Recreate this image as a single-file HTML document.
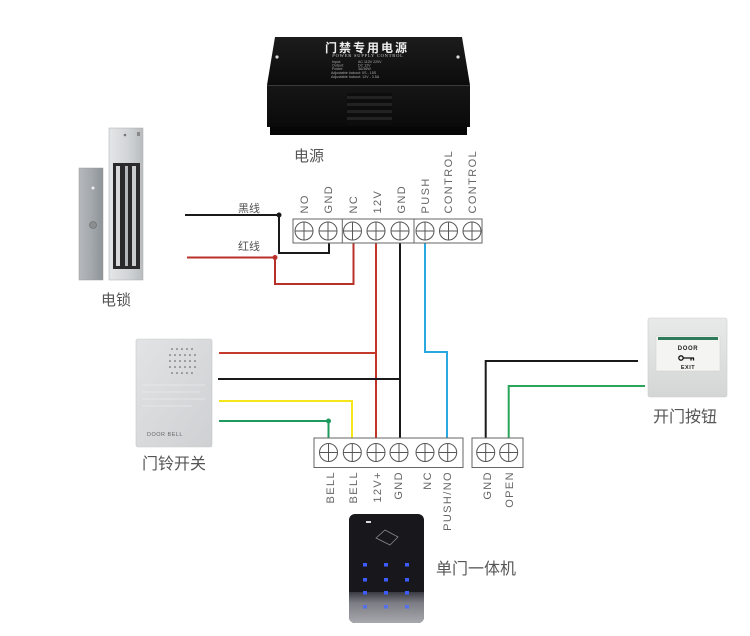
<!DOCTYPE html>
<html><head><meta charset="utf-8"><style>
html,body{margin:0;padding:0;background:#fff;}
svg{display:block;}
.cn{font-family:"Liberation Sans","Noto Sans CJK SC",sans-serif;fill:#555;}
.lb{font-family:"Liberation Sans",sans-serif;font-size:11px;fill:#666;letter-spacing:1.4px;}
</style></head><body>
<svg width="750" height="636" viewBox="0 0 750 636" xmlns="http://www.w3.org/2000/svg">
<defs>
<linearGradient id="psTop" x1="0" y1="0" x2="0" y2="1"><stop offset="0" stop-color="#1c1c1c"/><stop offset="1" stop-color="#0c0c0c"/></linearGradient>
<linearGradient id="psFront" x1="0" y1="0" x2="0" y2="1"><stop offset="0" stop-color="#161616"/><stop offset="1" stop-color="#0a0a0a"/></linearGradient>
<linearGradient id="plate" x1="0" y1="0" x2="1" y2="0"><stop offset="0" stop-color="#b5b9bc"/><stop offset="0.5" stop-color="#a4a9ad"/><stop offset="1" stop-color="#8e9397"/></linearGradient>
<linearGradient id="mag" x1="0" y1="0" x2="1" y2="0"><stop offset="0" stop-color="#e4e6e8"/><stop offset="0.6" stop-color="#d0d3d6"/><stop offset="1" stop-color="#b8bcbf"/></linearGradient>
<linearGradient id="bell" x1="0" y1="0" x2="1" y2="1"><stop offset="0" stop-color="#e2e3e5"/><stop offset="1" stop-color="#cfd0d3"/></linearGradient>
<linearGradient id="exitg" x1="0" y1="0" x2="0" y2="1"><stop offset="0" stop-color="#e8e9e9"/><stop offset="1" stop-color="#d4d6d6"/></linearGradient>
<linearGradient id="kpBot" x1="0" y1="0" x2="0" y2="1"><stop offset="0" stop-color="#3a3a42"/><stop offset="0.35" stop-color="#7c7d84"/><stop offset="1" stop-color="#a8a9ae"/></linearGradient>
</defs>

<!-- Power supply -->
<polygon points="275,37 462,37 470,85 267,85" fill="url(#psTop)"/>
<rect x="267" y="85" width="203" height="42" fill="url(#psFront)"/>
<line x1="267" y1="85.5" x2="470" y2="85.5" stroke="#3a3a3a" stroke-width="1"/>
<rect x="270" y="127" width="197" height="8" fill="#060606"/>
<circle cx="277" cy="57" r="1.6" fill="#ddd"/>
<circle cx="458" cy="57" r="1.6" fill="#ddd"/>
<text x="367" y="52" text-anchor="middle" font-family="Liberation Sans,'Noto Sans CJK SC',sans-serif" font-size="12" font-weight="bold" fill="#eee" letter-spacing="2">门禁专用电源</text>
<text x="368" y="57" text-anchor="middle" font-family="Liberation Serif,serif" font-size="4.5" fill="#ccc" letter-spacing="0.8">POWER SUPPLY CONTROL</text>
<g font-family="Liberation Sans,sans-serif" font-size="3.6" fill="#aaa">
<text x="332" y="63">Input:</text><text x="358" y="63">AC 110V 220V</text>
<text x="332" y="66.5">Output:</text><text x="358" y="66.5">DC 12V</text>
<text x="332" y="70">Power:</text><text x="358" y="70">3A/36W</text>
<text x="331" y="74">Adjustable lockout: 0S  - 15S</text>
<text x="331" y="78">Adjustable lockout: 12V  - 3.5A</text>
</g>
<g fill="#222">
<rect x="347" y="93" width="45" height="32" fill="#0d0d0d"/>
<rect x="347" y="96" width="45" height="3"/>
<rect x="347" y="103" width="45" height="3"/>
<rect x="347" y="110" width="45" height="3"/>
<rect x="347" y="117" width="45" height="3"/>
</g>
<text x="309" y="161" text-anchor="middle" class="cn" font-size="15">电源</text>

<!-- Lock -->
<rect x="79" y="168" width="24" height="112" fill="url(#plate)" stroke="#999" stroke-width="0.5"/>
<circle cx="93" cy="188" r="1.5" fill="#eee"/>
<circle cx="93" cy="225" r="3.5" fill="#8a8e91" stroke="#666" stroke-width="0.6"/>
<rect x="109" y="128" width="34" height="152" fill="url(#mag)" stroke="#aaa" stroke-width="0.5"/>
<rect x="113" y="163" width="27" height="106" fill="#2a2a2c"/>
<rect x="116" y="166" width="4" height="100" fill="#d6d8da"/>
<rect x="125" y="166" width="3" height="100" fill="#b5b8ba"/>
<rect x="132" y="166" width="4" height="100" fill="#c9cbcd"/>
<circle cx="125" cy="135" r="1.3" fill="#777"/>
<rect x="137" y="132" width="3" height="4" fill="#888"/>
<text x="116" y="305" text-anchor="middle" class="cn" font-size="15">电锁</text>

<!-- Doorbell -->
<rect x="136" y="339" width="76" height="108" rx="2" fill="url(#bell)" stroke="#c8c9cb" stroke-width="0.6"/>
<g fill="#555">
<circle cx="172" cy="349" r="0.8"/><circle cx="177" cy="349" r="0.8"/><circle cx="182" cy="349" r="0.8"/><circle cx="187" cy="349" r="0.8"/><circle cx="192" cy="349" r="0.8"/>
<circle cx="170" cy="355" r="0.8"/><circle cx="175" cy="355" r="0.8"/><circle cx="180" cy="355" r="0.8"/><circle cx="185" cy="355" r="0.8"/><circle cx="190" cy="355" r="0.8"/><circle cx="195" cy="355" r="0.8"/>
<circle cx="170" cy="361" r="0.8"/><circle cx="175" cy="361" r="0.8"/><circle cx="180" cy="361" r="0.8"/><circle cx="185" cy="361" r="0.8"/><circle cx="190" cy="361" r="0.8"/><circle cx="195" cy="361" r="0.8"/>
<circle cx="170" cy="367" r="0.8"/><circle cx="175" cy="367" r="0.8"/><circle cx="180" cy="367" r="0.8"/><circle cx="185" cy="367" r="0.8"/><circle cx="190" cy="367" r="0.8"/><circle cx="195" cy="367" r="0.8"/>
<circle cx="172" cy="373" r="0.8"/><circle cx="177" cy="373" r="0.8"/><circle cx="182" cy="373" r="0.8"/><circle cx="187" cy="373" r="0.8"/><circle cx="192" cy="373" r="0.8"/>
</g>
<g stroke="#e9eaec" stroke-width="0.8">
<line x1="142" y1="385" x2="205" y2="385"/><line x1="142" y1="392" x2="200" y2="392"/><line x1="142" y1="399" x2="205" y2="399"/><line x1="142" y1="406" x2="192" y2="406"/>
</g>
<text x="147" y="436" font-family="Liberation Sans,sans-serif" font-size="5.5" fill="#666" letter-spacing="0.5">DOOR BELL</text>
<text x="174" y="469" text-anchor="middle" class="cn" font-size="16">门铃开关</text>

<!-- Exit button -->
<rect x="648" y="318" width="79" height="79" rx="2" fill="url(#exitg)" stroke="#ccc" stroke-width="0.6"/>
<rect x="656" y="336" width="64" height="35" fill="#f4f4f2" stroke="#cfcfcf" stroke-width="0.5"/>
<rect x="658" y="337" width="60" height="3" fill="#2e7a5a"/>
<text x="688" y="350" text-anchor="middle" font-family="Liberation Sans,sans-serif" font-size="6" font-weight="bold" fill="#222" letter-spacing="0.6">DOOR</text>
<circle cx="681" cy="358" r="2.2" fill="none" stroke="#111" stroke-width="1.3"/>
<path d="M683.5,358 H694 M691,358 V360.5 M693.5,358 V360.5" stroke="#111" stroke-width="1.3" fill="none"/>
<text x="688" y="369" text-anchor="middle" font-family="Liberation Sans,sans-serif" font-size="5.5" font-weight="bold" fill="#222" letter-spacing="0.5">EXIT</text>
<text x="685" y="422" text-anchor="middle" class="cn" font-size="16">开门按钮</text>

<!-- Keypad -->
<rect x="349" y="514" width="75" height="109" rx="6" fill="#17171c"/>
<path d="M349,592 H424 V617 a6,6 0 0 1 -6,6 H355 a6,6 0 0 1 -6,-6 Z" fill="url(#kpBot)"/>
<rect x="366" y="521" width="5" height="2" fill="#ddd"/>
<path d="M376,538 L385,530 L398,537 L390,545 Z" fill="none" stroke="#888" stroke-width="0.8"/>
<g fill="#3d5cff">
<rect x="363" y="563" width="4" height="3.5"/><rect x="384" y="563" width="4" height="3.5"/><rect x="405" y="563" width="4" height="3.5"/>
<rect x="363" y="578" width="4" height="3.5"/><rect x="384" y="578" width="4" height="3.5"/><rect x="405" y="578" width="4" height="3.5"/>
<rect x="363" y="591" width="4" height="3.5"/><rect x="384" y="591" width="4" height="3.5"/><rect x="405" y="591" width="4" height="3.5"/>
</g>
<g fill="#5570e8">
<rect x="363" y="605" width="4" height="3.5"/><rect x="384" y="605" width="4" height="3.5"/><rect x="405" y="605" width="4" height="3.5"/>
</g>
<text x="476" y="574" text-anchor="middle" class="cn" font-size="16">单门一体机</text>

<!-- Wire labels -->
<text x="249" y="212" text-anchor="middle" class="cn" font-size="11">黑线</text>
<text x="249" y="250" text-anchor="middle" class="cn" font-size="11">红线</text>

<!-- Wires -->
<g fill="none" stroke-width="2">
<path d="M185,215 H279 V253 H329 V243" stroke="#1a1a1a"/>
<path d="M187,257.5 H275 V284 H353.5 V243" stroke="#b8302a"/>
<path d="M376,243 V438" stroke="#c0342a"/>
<path d="M400,243 V438" stroke="#1a1a1a"/>
<path d="M425,243 V352 H447 V438" stroke="#2aa8e0"/>
<path d="M219,353 H376" stroke="#c63a2c"/>
<path d="M218,379 H400" stroke="#1a1a1a"/>
<path d="M219,401 H352 V438" stroke="#f4e61a"/>
<path d="M219,421 H328.5 V438" stroke="#1f9a5e"/>
<path d="M485.7,438 V361 H638" stroke="#1a1a1a"/>
<path d="M508.7,438 V386 H645" stroke="#2aa65a"/>
</g>
<circle cx="279" cy="215" r="2.5" fill="#1a1a1a"/>
<circle cx="275" cy="257.5" r="2.5" fill="#b8302a"/>
<circle cx="328.5" cy="421" r="2.5" fill="#1f9a5e"/>

<!-- Top terminal block -->
<rect x="293" y="219" width="189" height="24" fill="#fff" stroke="#666" stroke-width="1"/>
<line x1="342.3" y1="219" x2="342.3" y2="243" stroke="#666"/>
<line x1="414" y1="219" x2="414" y2="243" stroke="#666"/>
<g fill="none" stroke="#555" stroke-width="1">
<circle cx="304" cy="231" r="9"/><path d="M295,231 H313 M304,222 V240"/>
<circle cx="328" cy="231" r="9"/><path d="M319,231 H337 M328,222 V240"/>
<circle cx="352.5" cy="231" r="9"/><path d="M343.5,231 H361.5 M352.5,222 V240"/>
<circle cx="376" cy="231" r="9"/><path d="M367,231 H385 M376,222 V240"/>
<circle cx="400" cy="231" r="9"/><path d="M391,231 H409 M400,222 V240"/>
<circle cx="425" cy="231" r="9"/><path d="M416,231 H434 M425,222 V240"/>
<circle cx="448.5" cy="231" r="9"/><path d="M439.5,231 H457.5 M448.5,222 V240"/>
<circle cx="472" cy="231" r="9"/><path d="M463,231 H481 M472,222 V240"/>
</g>
<g class="lb">
<text transform="translate(308,213.5) rotate(-90)">NO</text>
<text transform="translate(332,213.5) rotate(-90)">GND</text>
<text transform="translate(357,213.5) rotate(-90)">NC</text>
<text transform="translate(381,213.5) rotate(-90)">12V</text>
<text transform="translate(405,213.5) rotate(-90)">GND</text>
<text transform="translate(429,213.5) rotate(-90)">PUSH</text>
<text transform="translate(452,213.5) rotate(-90)">CONTROL</text>
<text transform="translate(476,213.5) rotate(-90)">CONTROL</text>
</g>

<!-- Bottom terminal blocks -->
<rect x="314" y="438" width="149" height="29.5" fill="#fff" stroke="#666" stroke-width="1"/>
<rect x="472" y="438" width="51" height="29.5" fill="#fff" stroke="#666" stroke-width="1"/>
<g fill="none" stroke="#555" stroke-width="1">
<circle cx="328.5" cy="452.5" r="9"/><path d="M319.5,452.5 H337.5 M328.5,443.5 V461.5"/>
<circle cx="352.3" cy="452.5" r="9"/><path d="M343.3,452.5 H361.3 M352.3,443.5 V461.5"/>
<circle cx="376" cy="452.5" r="9"/><path d="M367,452.5 H385 M376,443.5 V461.5"/>
<circle cx="399" cy="452.5" r="9"/><path d="M390,452.5 H408 M399,443.5 V461.5"/>
<circle cx="425" cy="452.5" r="9"/><path d="M416,452.5 H434 M425,443.5 V461.5"/>
<circle cx="447.7" cy="452.5" r="9"/><path d="M438.7,452.5 H456.7 M447.7,443.5 V461.5"/>
<circle cx="485.7" cy="452.5" r="9"/><path d="M476.7,452.5 H494.7 M485.7,443.5 V461.5"/>
<circle cx="508.7" cy="452.5" r="9"/><path d="M499.7,452.5 H517.7 M508.7,443.5 V461.5"/>
</g>
<g class="lb" text-anchor="end">
<text transform="translate(334,471) rotate(-90)">BELL</text>
<text transform="translate(357,471) rotate(-90)">BELL</text>
<text transform="translate(381,471) rotate(-90)">12V+</text>
<text transform="translate(402,471) rotate(-90)">GND</text>
<text transform="translate(431,471) rotate(-90)">NC</text>
<text transform="translate(451,471) rotate(-90)">PUSH/NO</text>
<text transform="translate(491,471) rotate(-90)">GND</text>
<text transform="translate(513,471) rotate(-90)">OPEN</text>
</g>
</svg>
</body></html>
